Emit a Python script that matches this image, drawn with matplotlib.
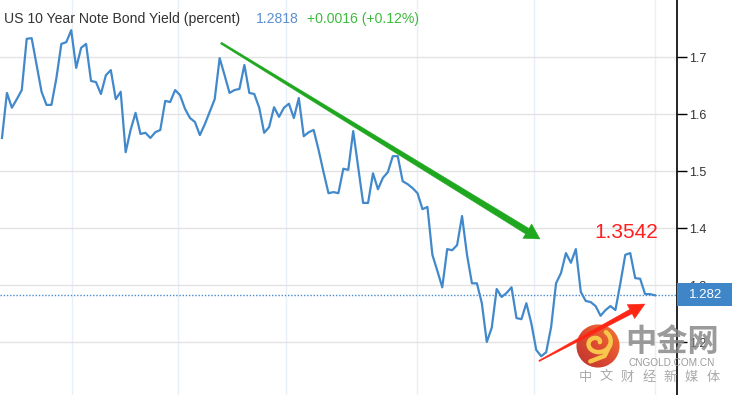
import matplotlib
matplotlib.use("Agg")
import matplotlib.pyplot as plt
import numpy as np
from matplotlib.patches import Polygon, Rectangle, Circle
from matplotlib.colors import LinearSegmentedColormap

# daily 10y yield values (percent)
yields = [
    1.558, 1.637, 1.611, 1.626, 1.642, 1.732, 1.733, 1.686, 1.639, 1.616,
    1.616, 1.663, 1.723, 1.726, 1.747, 1.681, 1.716, 1.723, 1.658, 1.656,
    1.635, 1.668, 1.677, 1.626, 1.639, 1.533, 1.572, 1.602, 1.565, 1.567,
    1.558, 1.568, 1.572, 1.623, 1.621, 1.642, 1.633, 1.609, 1.593, 1.586,
    1.563, 1.582, 1.604, 1.626, 1.698, 1.668, 1.637, 1.642, 1.644, 1.686,
    1.637, 1.635, 1.611, 1.567, 1.577, 1.612, 1.595, 1.611, 1.618, 1.593,
    1.628, 1.561, 1.568, 1.572, 1.537, 1.498, 1.461, 1.463, 1.461, 1.504,
    1.502, 1.570, 1.507, 1.444, 1.444, 1.496, 1.468, 1.488, 1.498, 1.526,
    1.526, 1.482, 1.477, 1.470, 1.461, 1.433, 1.437, 1.353, 1.325, 1.296,
    1.363, 1.361, 1.370, 1.421, 1.353, 1.303, 1.303, 1.268, 1.200, 1.225,
    1.293, 1.279, 1.286, 1.296, 1.242, 1.240, 1.268, 1.233, 1.186, 1.175,
    1.182, 1.226, 1.303, 1.321, 1.356, 1.339, 1.363, 1.288, 1.272, 1.270,
    1.263, 1.246, 1.256, 1.263, 1.256, 1.303, 1.353, 1.356, 1.312, 1.311,
    1.284, 1.284, 1.282,
]
y_ticks = [1.2, 1.3, 1.4, 1.5, 1.6, 1.7]
month_breaks = [14.15, 35.6, 57.4, 83.9, 107.5, 132.0]
last_value = 1.282
peak_label = "1.3542"
title = "US 10 Year Note Bond Yield (percent)"
last_text = "1.2818"
change_text = "+0.0016 (+0.12%)"

W, H = 732, 395
fig = plt.figure(figsize=(W / 100, H / 100), dpi=100)
fig.patch.set_facecolor("white")


def fx(x):
    return x / W


def fy(y):
    return 1 - y / H


ax = fig.add_axes([0, 0, 677 / W, 1])
x = np.arange(len(yields))
ax.plot(x, yields, color="#4289cb", lw=1.6, zorder=3)
ax.axhline(last_value, color="#4a8ccc", lw=1, ls=(0, (1, 1.3)), zorder=2)

ax.set_xlim(-0.4, 136.45)
ax.set_ylim(1.8 - H / 570, 1.8)
ax.set_yticks(y_ticks)
ax.set_xticks(month_breaks)
ax.grid(axis="y", color="#e3e3e3", lw=1)
ax.grid(axis="x", color="#e9eff6", lw=1)
ax.set_axisbelow(True)
for s in ["top", "left", "bottom"]:
    ax.spines[s].set_visible(False)
ax.spines["right"].set_color("black")
ax.spines["right"].set_linewidth(1.2)
ax.yaxis.tick_right()
ax.tick_params(axis="y", length=7, width=1, color="black", pad=2,
               labelsize=9, labelcolor="#333333")
ax.tick_params(axis="x", length=0, labelbottom=False)
for lab in ax.get_yticklabels():
    lab.set_family("Liberation Sans")

# header text
fig.text(fx(4), fy(19), title, fontsize=10.1, family="Liberation Sans",
         color="#333333", va="center", ha="left")
fig.text(fx(256), fy(19), last_text, fontsize=10.1, family="Liberation Sans",
         color="#5b8fcf", va="center", ha="left")
fig.text(fx(307), fy(19), change_text, fontsize=10.1, family="Liberation Sans",
         color="#3dbb3d", va="center", ha="left")


def taper_arrow(start, tip, w0, w1, head_len, head_half, color):
    p0 = np.array(start, float)
    p1 = np.array(tip, float)
    d = p1 - p0
    u = d / np.hypot(*d)
    n = np.array([-u[1], u[0]])
    base = p1 - u * head_len
    pts = [p0 + n * w0 / 2, base + n * w1 / 2, base + n * head_half, p1,
           base - n * head_half, base - n * w1 / 2, p0 - n * w0 / 2]
    pts = [(fx(p[0]), fy(p[1])) for p in pts]
    fig.add_artist(Polygon(pts, closed=True, facecolor=color, edgecolor=color,
                           lw=0.3, transform=fig.transFigure, zorder=10))


taper_arrow((221, 43), (540, 239), 2, 6.5, 15, 8.5, "#1fa81f")
taper_arrow((539, 361), (645, 304), 1.2, 5, 16, 8, "#ff2616")

fig.text(fx(626), fy(232), peak_label, fontsize=15, family="Liberation Sans",
         color="#ff1f1f", ha="center", va="center", zorder=10)

# last value box on the axis
fig.add_artist(Rectangle((fx(677), fy(306)), fx(55), 23 / H, facecolor="#3f86c8",
                         edgecolor="none", transform=fig.transFigure, zorder=10))
fig.text(fx(706), fy(294.5), "1.282", fontsize=9.5, family="Liberation Sans",
         color="white", ha="center", va="center", zorder=11)

# watermark
lax = fig.add_axes([fx(576), fy(368), 44 / W, 44 / H])
lax.set_xlim(-1, 1)
lax.set_ylim(-1, 1)
lax.axis("off")
gx, gy = np.meshgrid(np.linspace(-1, 1, 60), np.linspace(-1, 1, 60))
cmap = LinearSegmentedColormap.from_list("logo", ["#b51f1d", "#dc3b1d", "#f46c1e"])
im = lax.imshow(gx + gy, extent=(-1, 1, -1, 1), origin="lower", cmap=cmap, alpha=0.92)
im.set_clip_path(Circle((0, 0), 0.98, transform=lax.transData))
t = np.linspace(0.2, 2.3 * np.pi, 80)
r = 0.12 + 0.08 * t
lax.plot(-0.05 + r * np.cos(t), 0.15 + r * np.sin(t) * 0.85, color="#f7c64a",
         lw=3.2, solid_capstyle="round")
lax.plot([0.55, 0.3, -0.35], [0.05, -0.45, -0.7], color="#f7c64a", lw=3.2,
         solid_capstyle="round")

fig.text(fx(672), fy(342), "中金网", fontsize=22.5, family="Noto Sans CJK SC",
         weight="bold", color="#8a8a8a", alpha=0.85, ha="center", va="center")
fig.text(fx(672), fy(363), "CNGOLD.COM.CN", fontsize=7.2, family="Liberation Sans",
         color="#9a9a9a", ha="center", va="center")
for i, ch in enumerate("中文财经新媒体"):
    fig.text(fx(585 + i * 21.3), fy(377), ch, fontsize=9.5, family="Noto Sans CJK SC",
             color="#aaaaaa", ha="center", va="center")

fig.savefig("out.png", dpi=100)
